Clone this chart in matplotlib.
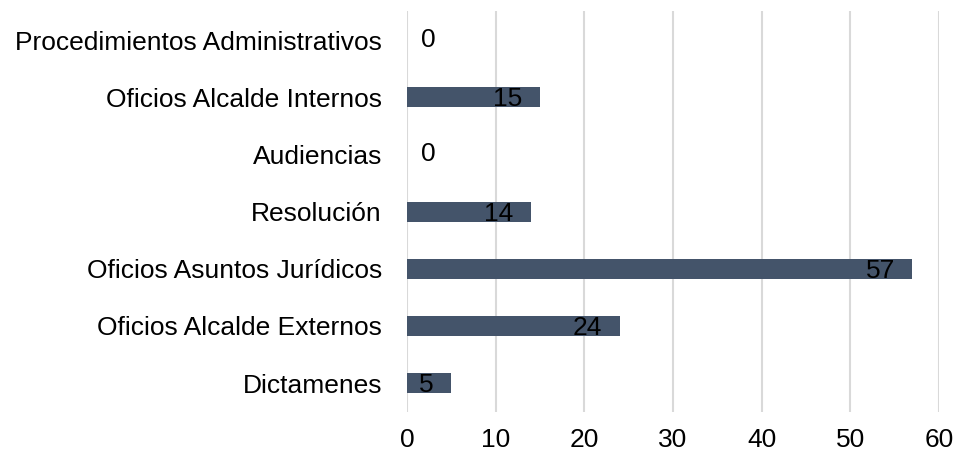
import matplotlib.pyplot as plt

categories = ["Dictamenes", "Oficios Alcalde Externos", "Oficios Asuntos Jurídicos",
              "Resolución", "Audiencias", "Oficios Alcalde Internos",
              "Procedimientos Administrativos"]
values = [5, 24, 57, 14, 0, 15, 0]
xticks = [0, 10, 20, 30, 40, 50, 60]

plt.rcParams['font.family'] = ['Liberation Sans', 'DejaVu Sans']

fig = plt.figure(figsize=(9.58, 4.58), dpi=100)
ax = fig.add_axes([0.4248, 0.101, 0.5552, 0.874])

ax.barh(range(len(categories)), values, height=0.35, color='#44546A', zorder=3)

for i, v in enumerate(values):
    if v == 0:
        ax.annotate(str(v), (v, i), xytext=(15.5, 0), textcoords='offset points',
                    ha='center', va='center', fontsize=19, color='black', zorder=4)
    else:
        ax.annotate(str(v), (v, i), xytext=(-12.5, -1.5), textcoords='offset points',
                    ha='right', va='center', fontsize=19, color='black', zorder=4)

ax.set_xlim(0, 60)
ax.set_ylim(-0.5, len(categories) - 0.5)
ax.set_xticks(xticks)
ax.set_yticks(range(len(categories)))
ax.set_yticklabels(categories)
ax.tick_params(axis='both', length=0, labelsize=19)
ax.tick_params(axis='y', pad=18)
ax.tick_params(axis='x', pad=12)
ax.grid(axis='x', color='#D9D9D9', linewidth=1.5, zorder=0)
for s in ax.spines.values():
    s.set_visible(False)

fig.savefig('out.png', dpi=100)
